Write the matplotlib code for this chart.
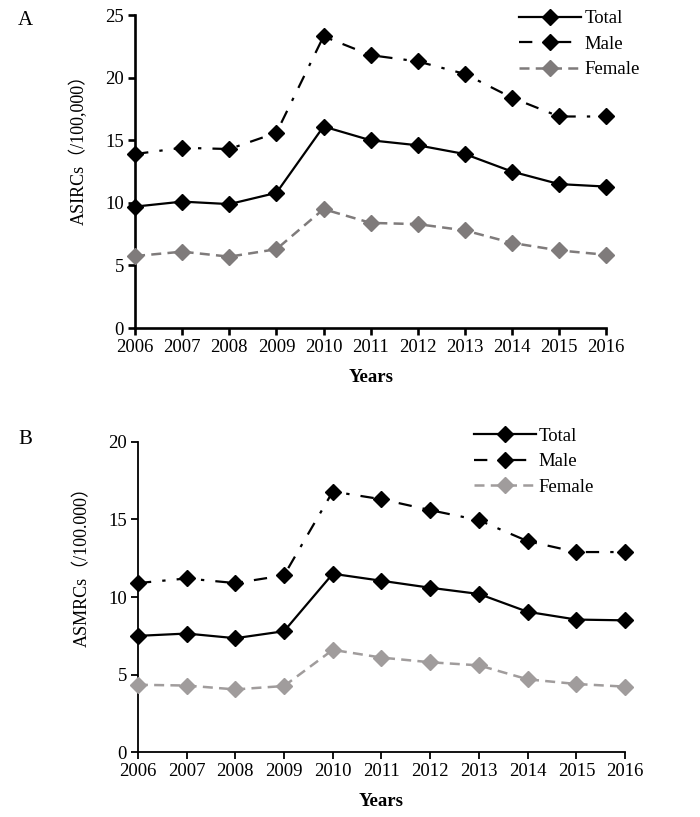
import matplotlib
matplotlib.use("Agg")
import matplotlib.pyplot as plt

plt.rcParams['font.family'] = ['Liberation Serif', 'Noto Sans CJK SC', 'DejaVu Sans']

years = [2006, 2007, 2008, 2009, 2010, 2011, 2012, 2013, 2014, 2015, 2016]

# panel A: incidence
a_total = [9.7, 10.1, 9.9, 10.8, 16.1, 15.0, 14.6, 13.9, 12.5, 11.5, 11.3]
a_male = [13.9, 14.4, 14.3, 15.6, 23.3, 21.8, 21.3, 20.3, 18.4, 16.9, 16.9]
a_female = [5.75, 6.1, 5.7, 6.3, 9.5, 8.4, 8.3, 7.8, 6.8, 6.2, 5.85]

# panel B: mortality
b_total = [7.5, 7.65, 7.35, 7.8, 11.5, 11.05, 10.6, 10.2, 9.05, 8.55, 8.5]
b_male = [10.9, 11.2, 10.9, 11.4, 16.8, 16.3, 15.6, 14.95, 13.6, 12.9, 12.9]
b_female = [4.35, 4.3, 4.05, 4.27, 6.6, 6.1, 5.8, 5.6, 4.7, 4.4, 4.23]

fig = plt.figure(figsize=(7, 8.17), dpi=100)


def draw(ax, total, male, female, ymax, ylabel, fem_color, spine_w, label_pos, leg_anchor):
    ax.plot(years, total, '-', color='black', lw=1.6, marker='D', ms=8.5,
            label='Total', clip_on=False, zorder=3)
    ax.plot(years, male, color='black', lw=1.6, marker='D', ms=8.5,
            linestyle=(0, (6, 5, 1.5, 5)), label='Male', clip_on=False, zorder=3)
    ax.plot(years, female, '--', color=fem_color, lw=1.8, marker='D', ms=8.5,
            dashes=(4, 2.5), label='Female', clip_on=False, zorder=3)
    ax.set_xlim(2006, 2016)
    ax.set_ylim(0, ymax)
    ax.set_xticks(years)
    ax.set_yticks(range(0, ymax + 1, 5))
    ax.spines['top'].set_visible(False)
    ax.spines['right'].set_visible(False)
    for s in ('left', 'bottom'):
        ax.spines[s].set_linewidth(spine_w)
    ax.tick_params(direction='out', length=5, width=spine_w, labelsize=13.5, pad=3)
    ax.set_xlabel('Years', fontsize=13.5, fontweight='bold', labelpad=9)
    ax.set_ylabel(ylabel, fontsize=13)
    ax.yaxis.set_label_coords(*label_pos)
    ax.legend(loc='upper left', bbox_to_anchor=leg_anchor, frameon=False,
              fontsize=13.5, handlelength=3.3, handletextpad=0.15,
              labelspacing=0.45, borderaxespad=0)


ax1 = fig.add_axes([0.193, 0.5985, 0.673, 0.383])
draw(ax1, a_total, a_male, a_female, 25, 'ASIRCs（/100,000）', '#7f7b7b', 1.9,
     (-0.10, 0.585), (0.80, 1.04))
fig.text(0.026, 0.975, 'A', fontsize=15, va='center')

ax2 = fig.add_axes([0.197, 0.0792, 0.696, 0.380])
draw(ax2, b_total, b_male, b_female, 20, 'ASMRCs（/100.000）', '#a09c9c', 1.3,
     (-0.097, 0.61), (0.675, 1.07))
fig.text(0.026, 0.462, 'B', fontsize=15, va='center')

fig.savefig('out.png', dpi=100)
